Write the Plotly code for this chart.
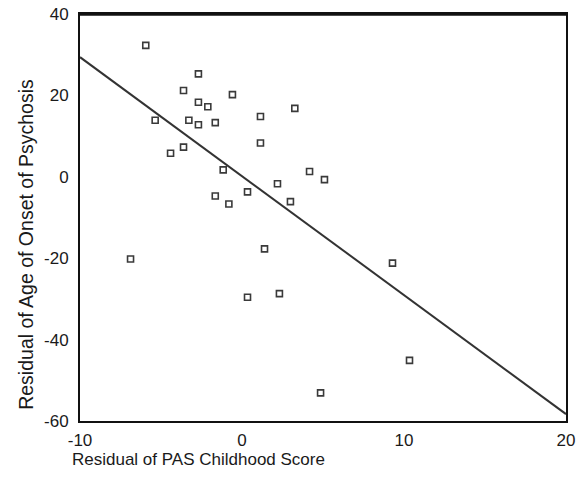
import plotly.graph_objects as go

pas_residual = [-5.94, -2.69, -3.61, -0.59, -2.69, -2.11, 3.26, 1.14, -5.36, -3.28,
                -2.69, -1.65, 1.14, -3.61, -4.41, -1.16, 4.17, 2.19, -1.65, 0.34,
                -0.81, 2.99, 5.09, -6.88, 1.39, 0.34, 2.31, 4.85, 9.29, 10.34]
onset_residual = [32.3, 25.3, 21.2, 20.2, 18.3, 17.2, 16.8, 14.8, 13.9, 13.9,
                  12.8, 13.3, 8.3, 7.3, 5.8, 1.7, 1.3, -1.7, -4.7, -3.7,
                  -6.7, -6.1, -0.7, -20.2, -17.7, -29.6, -28.7, -53.1, -21.2, -45.1]
fit_x = [-10, 20]
fit_y = [29.4, -58.3]

x_ticks = [-10, 0, 10, 20]
x_tick_text = ["-10", "0", "10", "20"]
y_ticks = [-60, -40, -20, 0, 20, 40]
y_tick_text = ["-60", "-40", "-20", "0", "20", "40"]

font_family = "Liberation Sans, Arial, sans-serif"
text_color = "#1a1a1a"

fig = go.Figure()
fig.add_trace(go.Scatter(x=fit_x, y=fit_y, mode="lines",
                         line=dict(color="#333333", width=2), showlegend=False))
fig.add_trace(go.Scatter(x=pas_residual, y=onset_residual, mode="markers",
                         marker=dict(symbol="square-open", size=6, color="#3a3a3a",
                                     line=dict(width=1.6, color="#3a3a3a")),
                         showlegend=False))

axis_common = dict(showgrid=False, zeroline=False, showline=True, mirror=True,
                   linecolor="#111111", linewidth=2, ticks="", automargin=False,
                   ticklabeloverflow="allow",
                   tickfont=dict(family=font_family, size=17, color=text_color))

fig.update_xaxes(range=[-10, 20], tickvals=x_ticks, ticktext=x_tick_text,
                 ticklabelstandoff=3, **axis_common)
fig.update_yaxes(range=[-60, 40], tickvals=y_ticks, ticktext=y_tick_text,
                 ticklabelstandoff=6, **axis_common)

fig.update_layout(
    width=584, height=488,
    margin=dict(l=80, r=18, t=14, b=67, autoexpand=False),
    paper_bgcolor="white", plot_bgcolor="white",
    font=dict(family=font_family, size=17, color=text_color),
    shapes=[dict(type="line", xref="paper", yref="paper", x0=0, x1=1, y0=0.999, y1=0.999,
                 line=dict(color="#111111", width=2.5), layer="above")],
    annotations=[
        dict(text="Residual of PAS Childhood Score", xref="paper", yref="paper",
             x=-0.021, y=-0.095, xanchor="left", yanchor="middle", showarrow=False,
             font=dict(family=font_family, size=17, color=text_color)),
        dict(text="Residual of Age of Onset of Psychosis", xref="paper", yref="paper",
             x=-0.111, y=0.433, xanchor="center", yanchor="middle", textangle=-90,
             showarrow=False, font=dict(family=font_family, size=19.5, color=text_color)),
    ],
)

fig.write_html("out.html", config={"displayModeBar": False},
               post_script="document.body.style.margin='0';document.body.style.padding='0';")
